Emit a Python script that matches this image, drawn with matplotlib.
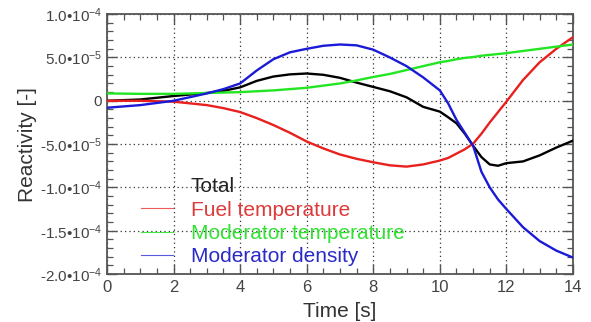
import numpy as np
import matplotlib
matplotlib.use("Agg")
import matplotlib.pyplot as plt
from matplotlib.lines import Line2D
from matplotlib.ticker import MultipleLocator

plt.rcParams['font.family'] = ['Liberation Sans', 'DejaVu Sans']
plt.rcParams['mathtext.fontset'] = 'custom'
plt.rcParams['mathtext.rm'] = 'Liberation Sans'
plt.rcParams['mathtext.it'] = 'Liberation Sans'

# ----------------------------
# Data (reactivity in units of 1e-5)
# ----------------------------
time_s = [0, 1, 2, 3, 3.5, 4, 4.5, 5, 5.5, 6, 6.5, 7, 7.5, 8, 8.5, 9, 9.5, 10,
          10.25, 10.5, 10.75, 11, 11.25, 11.5, 11.75, 12, 12.5, 13, 13.5, 14]
total = [0, 0.15, 0.55, 0.9, 1.15, 1.55, 2.3, 2.8, 3.05, 3.15, 3.0, 2.65, 2.1, 1.6, 1.1, 0.4,
         -0.7, -1.25, -1.9, -2.6, -3.8, -5.2, -6.5, -7.35, -7.5, -7.2, -7.0, -6.3, -5.4, -4.6]
fuel_temp = [0, 0, -0.1, -0.5, -0.85, -1.3, -2.0, -2.8, -3.7, -4.7, -5.5, -6.2, -6.7, -7.1,
             -7.45, -7.6, -7.35, -6.9, -6.6, -6.1, -5.6, -4.95, -3.8, -2.5, -1.3, -0.1, 2.4,
             4.45, 6.0, 7.35]
mod_temp = [0.85, 0.8, 0.8, 0.9, 0.95, 1.0, 1.1, 1.2, 1.35, 1.5, 1.75, 2.0, 2.35, 2.75, 3.1,
            3.55, 4.0, 4.45, 4.6, 4.8, 4.95, 5.05, 5.2, 5.3, 5.4, 5.5, 5.75, 6.0, 6.25, 6.5]
mod_density = [-0.8, -0.5, 0, 0.85, 1.35, 2.0, 3.5, 4.8, 5.6, 6.0, 6.35, 6.5, 6.4, 5.9, 5.0,
               4.0, 2.7, 1.2, -0.3, -2.2, -3.7, -5.2, -8.2, -10.0, -11.4, -12.5, -14.6,
               -16.2, -17.3, -18.1]
SCALE = 1e-5

series_names = ["Total", "Fuel temperature", "Moderator temperature", "Moderator density"]
line_colors = ["black", "#e8201e", "#22e622", "#1a1ad8"]
text_colors = ["#222222", "#dd3a3a", "#33e033", "#2a2ac8"]

ytick_vals = [-2e-4, -1.5e-4, -1e-4, -5e-5, 0, 5e-5, 1e-4]
ytick_labels = [r"-2.0•10$^{-4}$", r"-1.5•10$^{-4}$", r"-1.0•10$^{-4}$", r"-5.0•10$^{-5}$",
                "0", r"5.0•10$^{-5}$", r"1.0•10$^{-4}$"]

# ----------------------------
# Figure
# ----------------------------
fig = plt.figure(figsize=(5.91, 3.22), dpi=100)
ax = fig.add_axes([0.181, 0.149, 0.7885, 0.807])

t = np.array(time_s)
for ys, c in zip([total, fuel_temp, mod_temp, mod_density], line_colors):
    ax.plot(t, np.array(ys) * SCALE, color=c, lw=1.7, zorder=3)

ax.set_xlim(0, 14)
ax.set_ylim(-2e-4, 1e-4)
ax.set_xticks(range(0, 15, 2))
ax.set_yticks(ytick_vals)
ax.set_yticklabels(ytick_labels)
ax.xaxis.set_minor_locator(MultipleLocator(0.5))
ax.yaxis.set_minor_locator(MultipleLocator(1e-5))
ax.tick_params(which='both', direction='in', top=True, right=True, colors='#555555',
               labelcolor='#444444', labelsize=11)
ax.tick_params(which='major', length=7, width=1.0)
ax.tick_params(which='minor', length=4, width=0.9)
ax.tick_params(axis='x', pad=4, labelsize=12)
for s in ax.spines.values():
    s.set_color('#555555')
    s.set_linewidth(1.3)
ax.grid(True, which='major', color='#333333', linestyle=(0, (1, 2.5)), lw=0.9)

ax.set_xlabel("Time [s]", fontsize=15, color='#333333', labelpad=5)
ax.set_ylabel("Reactivity [-]", fontsize=15, color='#333333', labelpad=2)

# legend: thin handles, coloured text, no frame (the Total entry has no line sample)
handle_colors = ["none", "#ee5a5a", "#44e844", "#5a5ae0"]
handles = [Line2D([], [], color=c, lw=0.8) for c in handle_colors]
leg = ax.legend(handles, series_names, loc='upper left', bbox_to_anchor=(0.073, 0.372),
                frameon=False, fontsize=15, handlelength=1.55, handletextpad=0.85,
                labelspacing=0.21, borderpad=0, borderaxespad=0)
for txt, c in zip(leg.get_texts(), text_colors):
    txt.set_color(c)

fig.savefig("out.png", dpi=100)
